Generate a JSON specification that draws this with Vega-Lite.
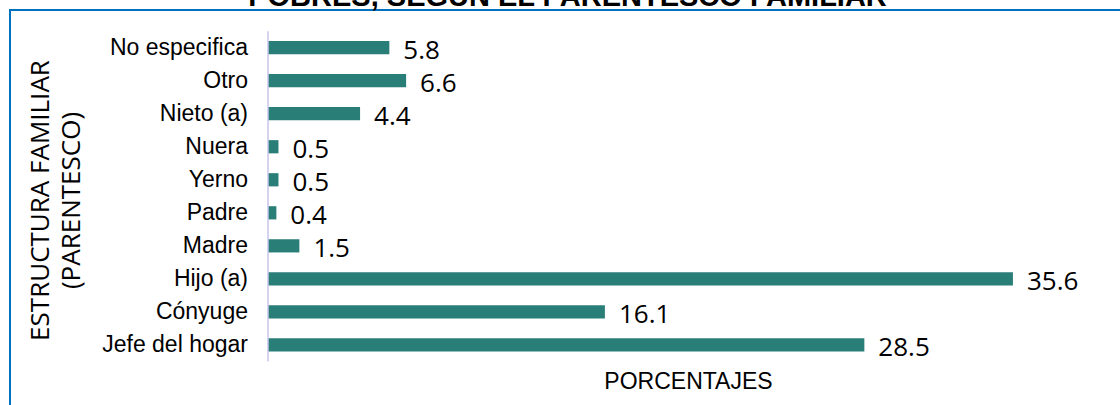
{
  "$schema": "https://vega.github.io/schema/vega-lite/v6.json",
  "width": 1115,
  "height": 400,
  "autosize": {"type": "none"},
  "padding": {"left": 10, "top": 10, "right": 0, "bottom": 0},
  "background": "white",
  "config": {"view": {"stroke": "#0070C0", "strokeWidth": 2}},
  "title": {
    "text": "POBRES, SEGÚN EL PARENTESCO FAMILIAR",
    "font": "Liberation Sans",
    "fontSize": 29,
    "fontWeight": "bold",
    "color": "#000000",
    "anchor": "middle",
    "baseline": "alphabetic",
    "offset": 0,
    "dy": 25
  },
  "datasets": {
    "bars": [
      {"cat": "No especifica", "pct": 5.8},
      {"cat": "Otro", "pct": 6.6},
      {"cat": "Nieto (a)", "pct": 4.4},
      {"cat": "Nuera", "pct": 0.5},
      {"cat": "Yerno", "pct": 0.5},
      {"cat": "Padre", "pct": 0.4},
      {"cat": "Madre", "pct": 1.5},
      {"cat": "Hijo (a)", "pct": 35.6},
      {"cat": "Cónyuge", "pct": 16.1},
      {"cat": "Jefe del hogar", "pct": 28.5}
    ],
    "axisline": [{"a": "No especifica", "b": "Jefe del hogar"}]
  },
  "layer": [
    {
      "data": {"name": "bars"},
      "mark": {"type": "bar", "color": "#2a7e78"},
      "encoding": {
        "y": {
          "field": "cat",
          "type": "nominal",
          "scale": {
            "domain": ["No especifica", "Otro", "Nieto (a)", "Nuera", "Yerno", "Padre", "Madre", "Hijo (a)", "Cónyuge", "Jefe del hogar", " "],
            "paddingInner": 0.6,
            "paddingOuter": 0.855,
            "align": 0.5497,
            "round": false
          },
          "axis": {
            "orient": "left",
            "offset": -258,
            "domain": false,
            "ticks": false,
            "tickSize": 0,
            "labelPadding": 20.5,
            "labelFont": "Liberation Sans",
            "labelFontSize": 23,
            "labelColor": "#000000",
            "labelLimit": 400,
            "title": ["ESTRUCTURA FAMILIAR", "(PARENTESCO)"],
            "titleFont": "Open Sans",
            "titleFontSize": 26,
            "titleFontWeight": "normal",
            "titleColor": "#000000",
            "titleAngle": -90,
            "titleX": -220,
            "titleY": 190,
            "titleAlign": "center",
            "titleBaseline": "alphabetic",
            "titleLineHeight": 31
          }
        },
        "x": {
          "field": "pct",
          "type": "quantitative",
          "scale": {"domain": [-12.33, 40.956], "nice": false, "zero": false},
          "axis": {
            "orient": "bottom",
            "offset": -48,
            "domain": false,
            "ticks": false,
            "labels": false,
            "grid": false,
            "title": "PORCENTAJES",
            "titleFont": "Liberation Sans",
            "titleFontSize": 23,
            "titleFontWeight": "normal",
            "titleColor": "#000000",
            "titleX": 678,
            "titleY": 26,
            "titleAlign": "center",
            "titleBaseline": "alphabetic"
          }
        },
        "x2": {"datum": 0}
      }
    },
    {
      "data": {"name": "bars"},
      "mark": {"type": "text", "align": "left", "baseline": "middle", "dx": 14, "dy": 3.5, "font": "Open Sans", "fontSize": 26, "color": "#000000"},
      "encoding": {
        "y": {"field": "cat", "type": "nominal"},
        "x": {"field": "pct", "type": "quantitative"},
        "text": {"field": "pct", "type": "quantitative", "format": ".1f"}
      }
    },
    {
      "data": {"name": "axisline"},
      "mark": {"type": "rule", "color": "#c8c5ea", "strokeWidth": 1.5},
      "encoding": {
        "x": {"datum": 0},
        "y": {"field": "a", "type": "nominal", "bandPosition": -0.75},
        "y2": {"field": "b", "bandPosition": 1.75}
      }
    }
  ]
}
